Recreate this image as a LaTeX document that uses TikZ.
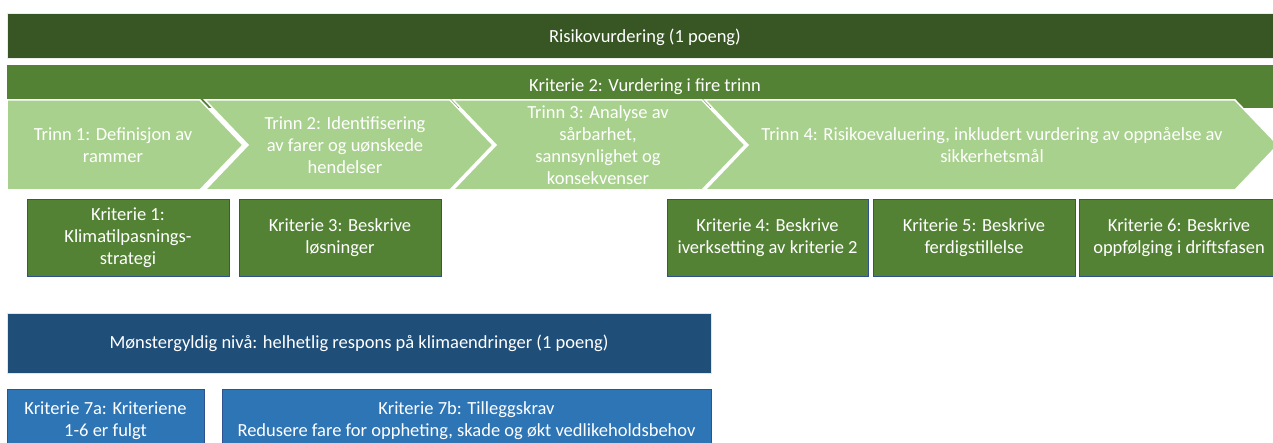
\documentclass[tikz,border=0pt]{standalone}
\usepackage{fontspec}
\setmainfont{Carlito}
\definecolor{darkgreen}{HTML}{375623}
\definecolor{midgreen}{HTML}{548235}
\definecolor{lightgreen}{HTML}{A9D18E}
\definecolor{darkblue}{HTML}{1F4E79}
\definecolor{midblue}{HTML}{2E75B6}
\definecolor{boxedge}{HTML}{2F528F}
\tikzset{
  txt/.style={text=white, align=center, inner sep=0pt, font=\fontsize{18.5}{22}\selectfont},
  chevron/.style={fill=lightgreen, draw=white, line width=1.5pt, line join=miter},
  krit/.style={txt, fill=midgreen, draw=boxedge, line width=0.6pt, minimum height=77pt},
  blubox/.style={txt, fill=midblue, draw=boxedge, line width=0.6pt, minimum height=64pt},
}
\begin{document}
\begin{tikzpicture}[x=1pt,y=-1pt]
\useasboundingbox (0,0) rectangle (1273,443);
\clip (0,0) rectangle (1273,443);
% top bars
\node[txt, fill=darkgreen, draw=white!85!gray, minimum width=1270pt, minimum height=45pt, anchor=north west] (risiko) at (7,13) {};
\node[txt] (risikotxt) at (645,37) {Risikovurdering (1 poeng)};
\node[txt, fill=midgreen, minimum width=1270pt, minimum height=43pt, anchor=north west] (krit2) at (7,65) {};
\node[txt] (krit2txt) at (645,87) {Kriterie 2: Vurdering i fire trinn};
% four steps
\draw[chevron] (7,100)--(200,100)--(243,145)--(200,190)--(7,190)--cycle;
\draw[chevron] (205,100)--(450,100)--(493,145)--(450,190)--(205,190)--(248,145)--cycle;
\draw[chevron] (453,100)--(702,100)--(745,145)--(702,190)--(453,190)--(496,145)--cycle;
\draw[chevron] (705,100)--(1235,100)--(1278,145)--(1235,190)--(705,190)--(748,145)--cycle;
\node[txt] (trinn1) at (113,145) {Trinn 1: Definisjon av\\rammer};
\node[txt] (trinn2) at (345,145) {Trinn 2: Identifisering\\av farer og uønskede\\hendelser};
\node[txt] (trinn3) at (598,145) {Trinn 3: Analyse av\\sårbarhet,\\sannsynlighet og\\konsekvenser};
\node[txt] (trinn4) at (992,145) {Trinn 4: Risikoevaluering, inkludert vurdering av oppnåelse av\\sikkerhetsmål};
% criteria
\node[krit, minimum width=202pt] (k1) at (128,237.5) {Kriterie 1:\\Klimatilpasnings-\\strategi};
\node[krit, minimum width=202pt] (k3) at (340,237.5) {Kriterie 3: Beskrive\\løsninger};
\node[krit, minimum width=201pt] (k4) at (767.5,237.5) {Kriterie 4: Beskrive\\iverksetting av kriterie 2};
\node[krit, minimum width=202pt] (k5) at (974,237.5) {Kriterie 5: Beskrive\\ferdigstillelse};
\node[krit, minimum width=200pt] (k6) at (1179,237.5) {Kriterie 6: Beskrive\\oppfølging i driftsfasen};
% exemplary level
\node[txt, fill=darkblue, draw=white!80!gray, line width=0.6pt, minimum width=704pt, minimum height=60pt] (monster) at (359,343) {Mønstergyldig nivå: helhetlig respons på klimaendringer (1 poeng)};
\node[blubox, minimum width=197pt] (k7a) at (105.5,421) {Kriterie 7a: Kriteriene\\1-6 er fulgt};
\node[blubox, minimum width=489pt] (k7b) at (466.5,421) {Kriterie 7b: Tilleggskrav\\Redusere fare for oppheting, skade og økt vedlikeholdsbehov};
\end{tikzpicture}
\end{document}
